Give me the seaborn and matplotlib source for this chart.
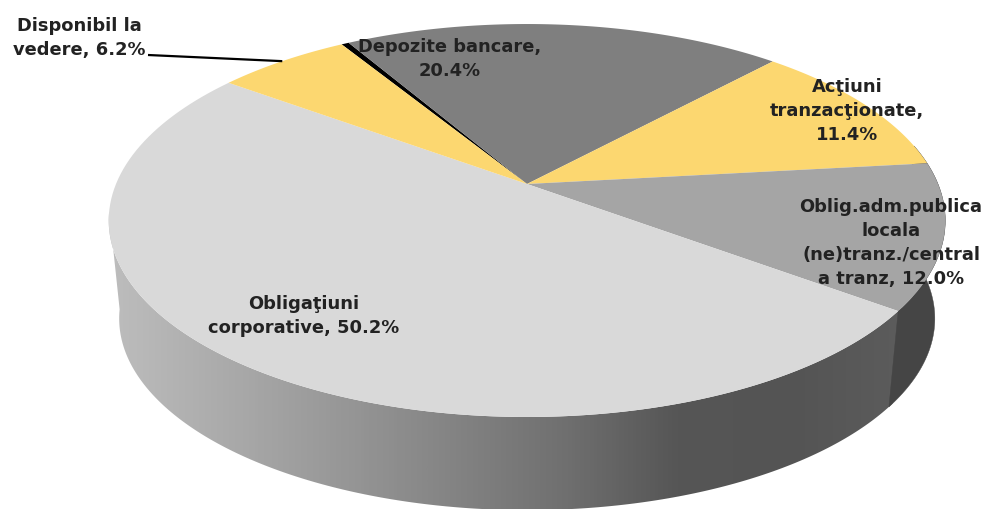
import numpy as np
import matplotlib
matplotlib.use('Agg')
import matplotlib.pyplot as plt
from matplotlib.patches import Polygon
import seaborn as sns

# slices, clockwise, starting from the black sliver next to "Depozite bancare"
categories = ['', 'Depozite bancare', 'Actiuni tranzactionate', 'Oblig.adm.publica',
              'Obligatiuni corporative', 'Disponibil la vedere']
values = [0.35, 20.4, 11.4, 12.0, 50.2, 6.2]
slice_colors = ['#000000', '#7f7f7f', '#fcd770', '#a5a5a5', '#d9d9d9', '#fcd770']

labels = ['', 'Depozite bancare,\n20.4%', 'Acţiuni\ntranzacţionate,\n11.4%',
          'Oblig.adm.publica\nlocala\n(ne)tranz./central\na tranz, 12.0%',
          'Obligaţiuni\ncorporative, 50.2%', 'Disponibil la\nvedere, 6.2%']
label_xy = [None, (450, 59), (847, 111), (891, 243), (304, 316), (79, 38)]

wall_colors = ['#bdbdbd', '#ababab', '#989898', '#848484', '#707070', '#565656', '#545454', '#5c5c5c']
dark_wall = '#454545'

# pie geometry in image pixels
CX, CY = 527, 185
A, B, K = 411, 189.7, 0.1858   # perspective projection of the unit disc
BOTTOM_SCALE, DEPTH = 0.975, 99
START = 328.5


def project(theta_deg, bottom=False):
    t = np.radians(theta_deg)
    u, v = np.sin(t), -np.cos(t)
    x = A * u / (1 - K * v)
    y = B * v / (1 - K * v)
    if bottom:
        return CX + BOTTOM_SCALE * x, CY + BOTTOM_SCALE * y + DEPTH
    return CX + x, CY + y


sns.set_theme(style='white')
plt.rcParams['font.family'] = ['DejaVu Sans']

fig = plt.figure(figsize=(9.86, 5.10), dpi=100)
ax = fig.add_axes([0, 0, 1, 1])

shares = np.array(values) / np.sum(values) * 360
edges = START + np.concatenate([[0], np.cumsum(shares)])
corp = categories.index('Obligatiuni corporative')
wall_split = edges[corp] % 360

# side wall: dark piece on the right, gradient under the large slice
th = np.linspace(wall_split - 1, 262, 200)
front = np.column_stack(project(th))
back = np.column_stack(project(th[::-1], bottom=True))
clip = Polygon(np.vstack([front, back]), closed=True, transform=ax.transData, fc='none', ec='none')
ax.add_patch(clip)
cmap = sns.blend_palette(wall_colors, as_cmap=True)
grad = ax.imshow(np.linspace(0, 1, 400)[None, :], cmap=cmap, aspect='auto',
                 extent=(108, 905, 510, 0), zorder=1)
grad.set_clip_path(clip)

th = np.linspace(78, wall_split, 60)
ax.add_patch(Polygon(np.vstack([np.column_stack(project(th)),
                                np.column_stack(project(th[::-1], bottom=True))]),
                     closed=True, fc=dark_wall, ec=dark_wall, lw=0.3, zorder=1.5))

# top face
for i, col in enumerate(slice_colors):
    th = np.linspace(edges[i], edges[i + 1], 120)
    pts = np.vstack([[CX, CY], np.column_stack(project(th))])
    ax.add_patch(Polygon(pts, closed=True, fc=col, ec='none', zorder=2))

for text, pos in zip(labels, label_xy):
    if pos is not None:
        ax.text(pos[0], pos[1], text, ha='center', va='center', fontsize=12.9, fontweight='bold',
                color='#222222', linespacing=1.44, zorder=4)

# leader line of the small slice
disp_mid = (edges[5] + edges[6]) / 2
ax.plot([148, project(disp_mid)[0]], [56, project(disp_mid)[1]], color='black', lw=1.6,
        solid_capstyle='butt', zorder=3)

ax.set_xlim(0, 986)
ax.set_ylim(510, 0)
ax.axis('off')
fig.savefig('out.png', dpi=100, facecolor='white')
